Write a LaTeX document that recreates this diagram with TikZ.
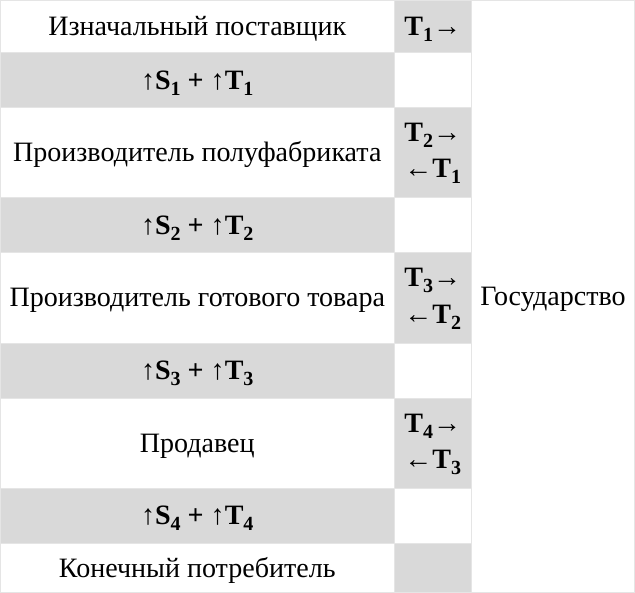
\documentclass[tikz,border=0pt]{standalone}
\usepackage{fontspec}
\setmainfont{Liberation Serif}
\newcommand{\idx}[1]{\raisebox{-6pt}{\fontsize{20}{20}\selectfont #1}}
\newcommand{\arr}[1]{{\mdseries #1}}
\begin{document}
\begin{tikzpicture}[x=1pt,y=-1pt,
  cell/.style={draw=black!10,line width=0.8pt,fill=white},
  shade/.style={draw=black!10,line width=0.8pt,fill=black!15},
  lbl/.style={font=\fontsize{28}{34}\selectfont,inner sep=0pt,anchor=base},
  flow/.style={font=\fontsize{28}{36}\selectfont\bfseries,align=center,inner sep=0pt,anchor=base},
]
% rows: top/bottom/left style/middle style
\foreach \ya/\yb/\lst/\mst in {1/53/cell/shade,53/108/shade/cell,108/198/cell/shade,
  198/253/shade/cell,253/343/cell/shade,343/398/shade/cell,398/488/cell/shade,
  488/543/shade/cell,543/592/cell/shade}{
  \path[\lst] (1,\ya) rectangle (394,\yb);
  \path[\mst] (394,\ya) rectangle (471,\yb);
}
\path[cell] (471,1) rectangle (634,592);

% left column (baselines)
\node[lbl] (supplier) at (197.5,36) {Изначальный поставщик};
\node[flow] (gain1) at (197.5,89.5) {\arr{↑}S\idx{1} + \arr{↑}T\idx{1}};
\node[lbl] (semi) at (197.5,162) {Производитель полуфабриката};
\node[flow] (gain2) at (197.5,234.5) {\arr{↑}S\idx{2} + \arr{↑}T\idx{2}};
\node[lbl] (maker) at (197.5,307) {Производитель готового товара};
\node[flow] (gain3) at (197.5,379.5) {\arr{↑}S\idx{3} + \arr{↑}T\idx{3}};
\node[lbl] (seller) at (197.5,452) {Продавец};
\node[flow] (gain4) at (197.5,524.5) {\arr{↑}S\idx{4} + \arr{↑}T\idx{4}};
\node[lbl] (buyer) at (197.5,576.5) {Конечный потребитель};

% middle column (base = last line)
\node[flow] (tax1) at (432.5,36) {T\idx{1}\arr{→}};
\node[flow] (tax2) at (432.5,178) {T\idx{2}\arr{→}\\\arr{←}T\idx{1}};
\node[flow] (tax3) at (432.5,323) {T\idx{3}\arr{→}\\\arr{←}T\idx{2}};
\node[flow] (tax4) at (432.5,468) {T\idx{4}\arr{→}\\\arr{←}T\idx{3}};

% right column
\node[lbl] (state) at (552.5,306) {Государство};
\end{tikzpicture}
\end{document}
